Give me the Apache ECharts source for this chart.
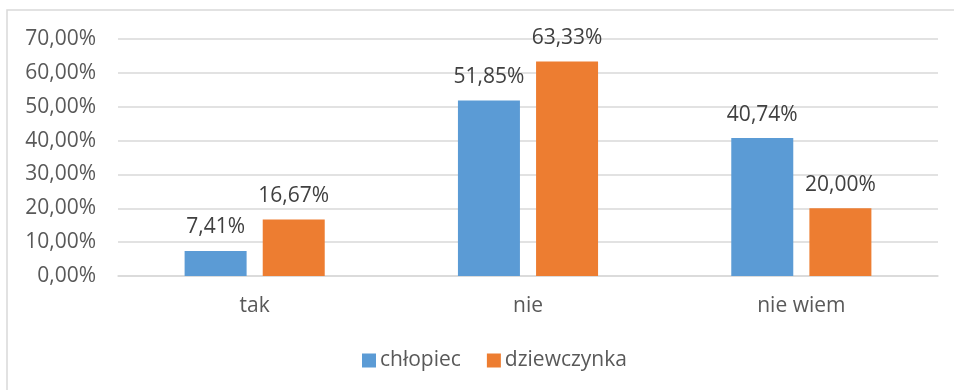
<!DOCTYPE html>
<html>
<head>
<meta charset="utf-8">
<script src="https://cdn.jsdelivr.net/npm/echarts@6/dist/echarts.min.js"></script>
<style>
  html, body { margin: 0; padding: 0; background: #fff; }
  #chart { width: 954px; height: 390px; }
</style>
</head>
<body>
<div id="chart"></div>
<script>
// Answers by group
const categories = ['tak', 'nie', 'nie wiem'];
const boys = [7.41, 51.85, 40.74];
const girls = [16.67, 63.33, 20.00];
const seriesNames = ['chłopiec', 'dziewczynka'];

const FONT = '"Open Sans", "Noto Sans", sans-serif';
const pct = v => v.toFixed(2).replace('.', ',') + '%';

const chart = echarts.init(document.getElementById('chart'));

const barSeries = (name, data, color) => ({
  name: name,
  type: 'bar',
  data: data,
  barWidth: 62,
  barGap: '26%',
  itemStyle: { color: color },
  label: {
    show: true,
    position: 'top',
    distance: 13,
    color: '#404040',
    fontFamily: FONT,
    fontSize: 21,
    formatter: p => pct(p.value)
  }
});

chart.setOption({
  animation: false,
  textStyle: { fontFamily: FONT },
  graphic: [{
    type: 'rect',
    shape: { x: 7, y: 10, width: 960, height: 400 },
    style: { fill: 'none', stroke: '#d9d9d9', lineWidth: 1.5 },
    z: -1
  }],
  grid: { left: 118, right: 16, top: 39, bottom: 114 },
  legend: {
    bottom: 14,
    left: 357,
    itemWidth: 14,
    itemHeight: 14,
    itemGap: 26,
    icon: 'rect',
    textStyle: { color: '#595959', fontSize: 21, fontFamily: FONT, padding: [0, 0, 0, -1] },
    data: seriesNames
  },
  xAxis: {
    type: 'category',
    data: categories,
    axisLine: { lineStyle: { color: '#d9d9d9', width: 1.5 } },
    axisTick: { show: false },
    axisLabel: { color: '#595959', fontSize: 21, fontFamily: FONT, margin: 20 }
  },
  yAxis: {
    type: 'value',
    min: 0,
    max: 70,
    interval: 10,
    axisLine: { show: false },
    axisTick: { show: false },
    axisLabel: { color: '#595959', fontSize: 21, fontFamily: FONT, margin: 22, formatter: v => pct(v) },
    splitLine: { lineStyle: { color: '#d9d9d9', width: 1.5 } }
  },
  series: [
    barSeries(seriesNames[0], boys, '#5b9bd5'),
    barSeries(seriesNames[1], girls, '#ed7d31')
  ]
});
</script>
</body>
</html>
